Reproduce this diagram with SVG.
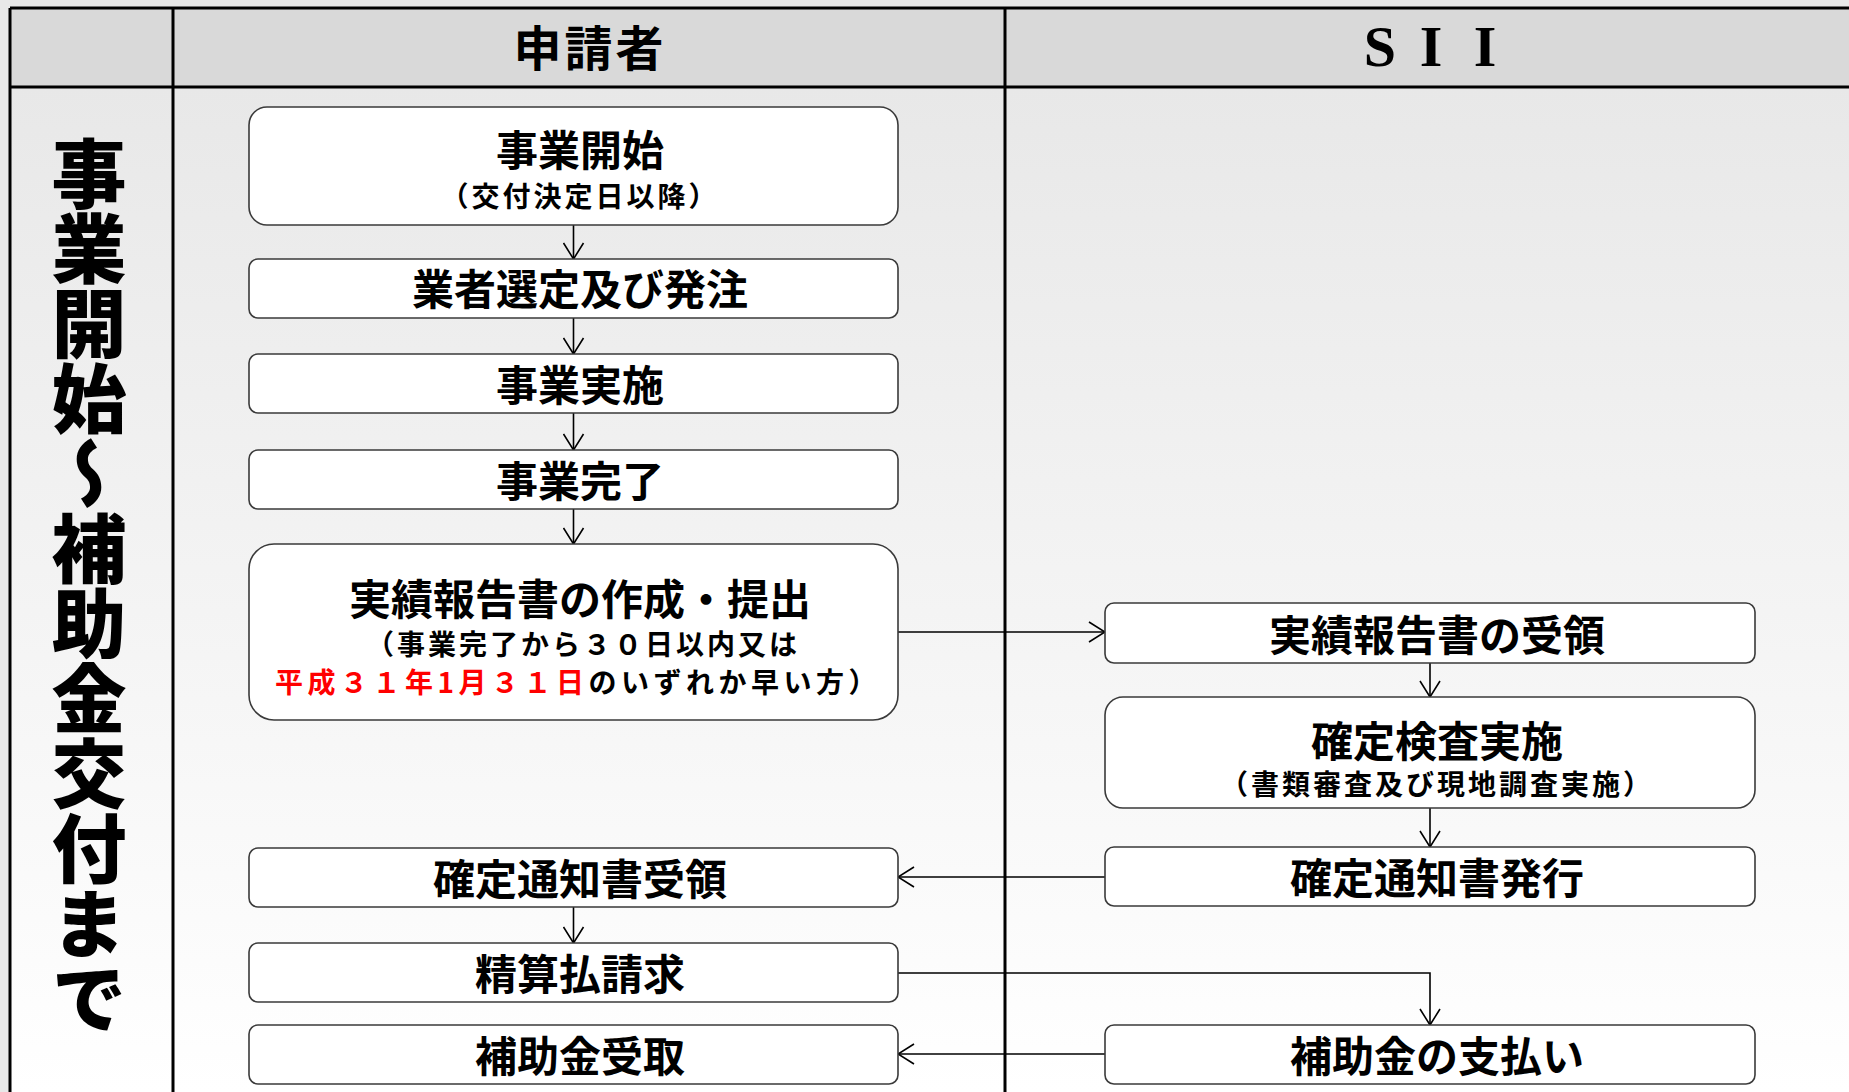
<svg xmlns="http://www.w3.org/2000/svg" width="1849" height="1092" viewBox="0 0 1849 1092">
<defs>
<linearGradient id="bodyGrad" x1="0" y1="87" x2="0" y2="1092" gradientUnits="userSpaceOnUse">
<stop offset="0" stop-color="#e8e8e8"/>
<stop offset="1" stop-color="#ffffff"/>
</linearGradient>
<marker id="arr" viewBox="0 0 18 22" refX="17" refY="11" markerWidth="18" markerHeight="22" markerUnits="userSpaceOnUse" orient="auto">
<path d="M1,1 L17,11 L1,21" fill="none" stroke="#000" stroke-width="1.6"/>
</marker>
<style>
.box{fill:#fff;stroke:#3a3a3a;stroke-width:1.6}
.t{font-family:"Noto Sans CJK JP","Noto Sans CJK SC",sans-serif;font-weight:700;font-size:42px;text-anchor:middle;dominant-baseline:central;fill:#000}
.s{font-family:"Noto Sans CJK JP","Noto Sans CJK SC",sans-serif;font-weight:700;font-size:28px;letter-spacing:3px;text-anchor:middle;dominant-baseline:central;fill:#000}
.s2{letter-spacing:4.5px}
.red{fill:#ff0000}
.grid{stroke:#000;stroke-width:3;fill:none}
.con{stroke:#000;stroke-width:1.6;fill:none}
</style>
</defs>
<rect x="0" y="0" width="1849" height="1092" fill="#e8e8e8"/>
<g id="table">
<rect x="10" y="87" width="1839" height="1005" fill="url(#bodyGrad)"/>
<rect x="10" y="8" width="1839" height="79" fill="#d9d9d9"/>
<line class="grid" x1="10" y1="8" x2="1849" y2="8"/>
<line class="grid" x1="10" y1="87" x2="1849" y2="87"/>
<line class="grid" x1="10" y1="8" x2="10" y2="1092"/>
<line class="grid" x1="173" y1="8" x2="173" y2="1092"/>
<line class="grid" x1="1005" y1="8" x2="1005" y2="1092"/>
<text x="590" y="45" font-family="Noto Sans CJK JP, sans-serif" font-weight="700" font-size="48" letter-spacing="3" text-anchor="middle" dominant-baseline="central">申請者</text>
<text x="1380 1431 1485" y="66" font-family="Liberation Serif, serif" font-weight="700" font-size="58" text-anchor="middle">SII</text>
<text x="89" y="136" font-family="Noto Sans CJK JP, sans-serif" font-weight="900" font-size="75" writing-mode="vertical-rl" style="writing-mode:vertical-rl">事業開始～補助金交付まで</text>
</g>
<g id="connectors">
<line class="con" x1="573.5" y1="225" x2="573.5" y2="259" marker-end="url(#arr)"/>
<line class="con" x1="573.5" y1="318" x2="573.5" y2="354" marker-end="url(#arr)"/>
<line class="con" x1="573.5" y1="413" x2="573.5" y2="450" marker-end="url(#arr)"/>
<line class="con" x1="573.5" y1="509" x2="573.5" y2="544" marker-end="url(#arr)"/>
<line class="con" x1="898" y1="632" x2="1105" y2="632" marker-end="url(#arr)"/>
<line class="con" x1="1430" y1="663" x2="1430" y2="697" marker-end="url(#arr)"/>
<line class="con" x1="1430" y1="808" x2="1430" y2="847" marker-end="url(#arr)"/>
<line class="con" x1="1105" y1="877" x2="898" y2="877" marker-end="url(#arr)"/>
<line class="con" x1="573.5" y1="907" x2="573.5" y2="943" marker-end="url(#arr)"/>
<polyline class="con" points="898,973 1430,973 1430,1025" marker-end="url(#arr)"/>
<line class="con" x1="1105" y1="1054" x2="898" y2="1054" marker-end="url(#arr)"/>
</g>
<g id="n1"><rect class="box" x="249" y="107" width="649" height="118" rx="18"/><text class="t" x="580" y="147">事業開始</text><text class="s" x="580" y="195">（交付決定日以降）</text></g>
<g id="n2"><rect class="box" x="249" y="259" width="649" height="59" rx="9"/><text class="t" x="580" y="286">業者選定及び発注</text></g>
<g id="n3"><rect class="box" x="249" y="354" width="649" height="59" rx="9"/><text class="t" x="580" y="382">事業実施</text></g>
<g id="n4"><rect class="box" x="249" y="450" width="649" height="59" rx="9"/><text class="t" x="580" y="478">事業完了</text></g>
<g id="n5"><rect class="box" x="249" y="544" width="649" height="176" rx="25"/><text class="t" x="580" y="596">実績報告書の作成・提出</text><text class="s" x="583" y="643">（事業完了から３０日以内又は</text><text class="s s2" x="578" y="681"><tspan class="red">平成３１年1月３１日</tspan>のいずれか早い方）</text></g>
<g id="n6"><rect class="box" x="249" y="848" width="649" height="59" rx="9"/><text class="t" x="580" y="876">確定通知書受領</text></g>
<g id="n7"><rect class="box" x="249" y="943" width="649" height="59" rx="9"/><text class="t" x="580" y="971">精算払請求</text></g>
<g id="n8"><rect class="box" x="249" y="1025" width="649" height="59" rx="9"/><text class="t" x="580" y="1053">補助金受取</text></g>
<g id="n9"><rect class="box" x="1105" y="603" width="650" height="60" rx="9"/><text class="t" x="1437" y="632">実績報告書の受領</text></g>
<g id="n10"><rect class="box" x="1105" y="697" width="650" height="111" rx="18"/><text class="t" x="1437" y="738">確定検査実施</text><text class="s" x="1437" y="783">（書類審査及び現地調査実施）</text></g>
<g id="n11"><rect class="box" x="1105" y="847" width="650" height="59" rx="9"/><text class="t" x="1437" y="875">確定通知書発行</text></g>
<g id="n12"><rect class="box" x="1105" y="1025" width="650" height="59" rx="9"/><text class="t" x="1437" y="1053">補助金の支払い</text></g>
</svg>
